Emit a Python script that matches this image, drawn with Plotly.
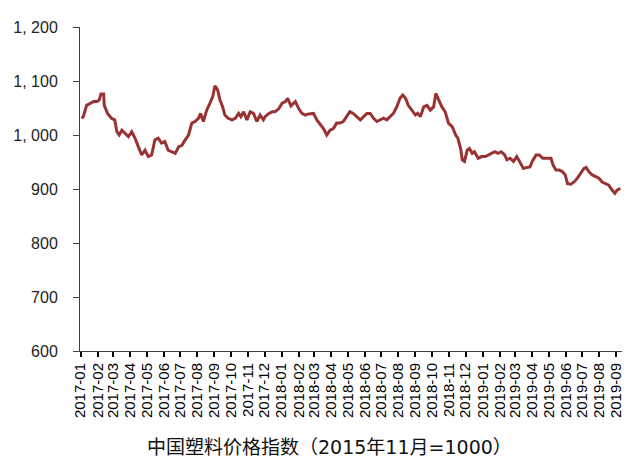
import pandas as pd
import plotly.graph_objects as go

# 中国塑料价格指数
dates = [
    "2017-01-03", "2017-01-06", "2017-01-12", "2017-01-19", "2017-01-25", "2017-01-31",
    "2017-02-04", "2017-02-07", "2017-02-12", "2017-02-13", "2017-02-19", "2017-02-26",
    "2017-03-04", "2017-03-08", "2017-03-12", "2017-03-17", "2017-03-23", "2017-03-29",
    "2017-04-04", "2017-04-10", "2017-04-16", "2017-04-22", "2017-04-28", "2017-05-04",
    "2017-05-10", "2017-05-16", "2017-05-22", "2017-05-28", "2017-06-03", "2017-06-09",
    "2017-06-15", "2017-06-22", "2017-06-28", "2017-07-04", "2017-07-10", "2017-07-16",
    "2017-07-22", "2017-07-28", "2017-08-03", "2017-08-07", "2017-08-12", "2017-08-18",
    "2017-08-24", "2017-08-29", "2017-09-02", "2017-09-07", "2017-09-11", "2017-09-16",
    "2017-09-20", "2017-09-26", "2017-10-03", "2017-10-09", "2017-10-15", "2017-10-19",
    "2017-10-24", "2017-10-30", "2017-11-05", "2017-11-11", "2017-11-17", "2017-11-23",
    "2017-11-29", "2017-12-02", "2017-12-09", "2017-12-15", "2017-12-20", "2017-12-27",
    "2018-01-02", "2018-01-08", "2018-01-12", "2018-01-18", "2018-01-26", "2018-02-01",
    "2018-02-07", "2018-02-13", "2018-02-19", "2018-02-28", "2018-03-06", "2018-03-12",
    "2018-03-18", "2018-03-24", "2018-03-30", "2018-04-05", "2018-04-11", "2018-04-17",
    "2018-04-23", "2018-04-29", "2018-05-05", "2018-05-11", "2018-05-18", "2018-05-24",
    "2018-05-30", "2018-06-05", "2018-06-11", "2018-06-17", "2018-06-23", "2018-06-29",
    "2018-07-05", "2018-07-11", "2018-07-17", "2018-07-23", "2018-07-29", "2018-08-04",
    "2018-08-09", "2018-08-14", "2018-08-19", "2018-08-25", "2018-09-01", "2018-09-05",
    "2018-09-10", "2018-09-16", "2018-09-22", "2018-09-28", "2018-10-04", "2018-10-08",
    "2018-10-13", "2018-10-19", "2018-10-25", "2018-10-31", "2018-11-07", "2018-11-13",
    "2018-11-17", "2018-11-22", "2018-11-25", "2018-11-29", "2018-12-04", "2018-12-08",
    "2018-12-13", "2018-12-17", "2018-12-24", "2018-12-30", "2019-01-06", "2019-01-12",
    "2019-01-18", "2019-01-23", "2019-01-29", "2019-02-04", "2019-02-10", "2019-02-14",
    "2019-02-20", "2019-02-26", "2019-03-04", "2019-03-10", "2019-03-16", "2019-03-22",
    "2019-03-28", "2019-04-01", "2019-04-08", "2019-04-14", "2019-04-20", "2019-04-29",
    "2019-05-05", "2019-05-09", "2019-05-14", "2019-05-20", "2019-05-26", "2019-05-31",
    "2019-06-04", "2019-06-10", "2019-06-16", "2019-06-22", "2019-06-28", "2019-07-04",
    "2019-07-08", "2019-07-13", "2019-07-19", "2019-07-25", "2019-07-31", "2019-08-06",
    "2019-08-12", "2019-08-18", "2019-08-24", "2019-08-29", "2019-09-02", "2019-09-08",
]
index_values = [
    1031, 1034, 1055, 1059, 1062, 1062,
    1065, 1076, 1076, 1055, 1040, 1031,
    1028, 1006, 1000, 1009, 1003, 997,
    1006, 994, 978, 963, 972, 960,
    963, 991, 994, 985, 988, 972,
    969, 966, 978, 981, 991, 1000,
    1022, 1025, 1031, 1040, 1025, 1046,
    1059, 1071, 1091, 1083, 1065, 1052,
    1037, 1031, 1028, 1031, 1040, 1034,
    1043, 1028, 1043, 1040, 1025, 1037,
    1028, 1034, 1040, 1043, 1043, 1049,
    1059, 1062, 1068, 1054, 1062, 1049,
    1040, 1037, 1039, 1040, 1028, 1019,
    1012, 1000, 1009, 1012, 1022, 1022,
    1025, 1034, 1043, 1040, 1034, 1028,
    1034, 1040, 1040, 1031, 1025, 1028,
    1031, 1028, 1034, 1040, 1052, 1068,
    1074, 1068, 1055, 1046, 1037, 1040,
    1034, 1052, 1055, 1046, 1052, 1077,
    1065, 1052, 1043, 1022, 1015, 1000,
    994, 975, 954, 951, 972, 975,
    966, 969, 957, 960, 960, 963,
    966, 969, 966, 969, 963, 954,
    957, 951, 960, 948, 938, 940,
    941, 951, 963, 963, 957, 957,
    957, 944, 935, 935, 932, 926,
    910, 909, 913, 920, 929, 938,
    940, 932, 926, 923, 920, 913,
    910, 907, 898, 892, 898, 901,
]

y_ticks = [600, 700, 800, 900, 1000, 1100, 1200]
y_labels = ["600", "700", "800", "900", "1, 000", "1, 100", "1, 200"]

month_ticks = pd.date_range("2017-01-01", "2019-09-01", freq="MS")
month_labels = [d.strftime("%Y-%m") for d in month_ticks]

title_text = "中国塑料价格指数（2015年11月=1000）"

fig = go.Figure()
fig.add_trace(go.Scatter(
    x=pd.to_datetime(dates), y=index_values,
    mode="lines",
    line=dict(color="#993333", width=3),
    showlegend=False,
))

axis_color = "#404040"
fig.update_xaxes(
    range=["2016-12-31", "2019-09-11"],
    tickvals=month_ticks, ticktext=month_labels,
    tickangle=-90, automargin=False, ticklabeloverflow="allow",
    ticks="outside", ticklen=5, tickwidth=2, tickcolor="#000000",
    showline=True, linecolor=axis_color, linewidth=1,
    showgrid=False, zeroline=False,
    tickfont=dict(family="Liberation Sans, Arial", size=15, color="#000000"),
)
fig.update_yaxes(
    range=[600, 1200],
    tickvals=y_ticks, ticktext=y_labels,
    automargin=False, ticklabelstandoff=12,
    ticks="outside", ticklen=6, tickcolor=axis_color,
    showline=True, linecolor=axis_color, linewidth=1,
    showgrid=False, zeroline=False,
    tickfont=dict(family="Liberation Sans, Arial", size=16, color="#222222"),
)

fig.add_annotation(
    text=title_text, xref="paper", yref="paper",
    x=0.46, y=-0.296, xanchor="center", yanchor="middle",
    showarrow=False,
    font=dict(family="DejaVu Sans, Noto Sans CJK SC", size=19, color="#111111"),
)

fig.update_layout(
    width=624, height=466,
    margin=dict(l=80, r=2, t=27, b=115),
    paper_bgcolor="white", plot_bgcolor="white",
)

# the page's default body margin would shift the figure by 8px
fig.write_html(
    "out.html",
    config={"displayModeBar": False},
    post_script="document.body.style.margin = '0';",
)
